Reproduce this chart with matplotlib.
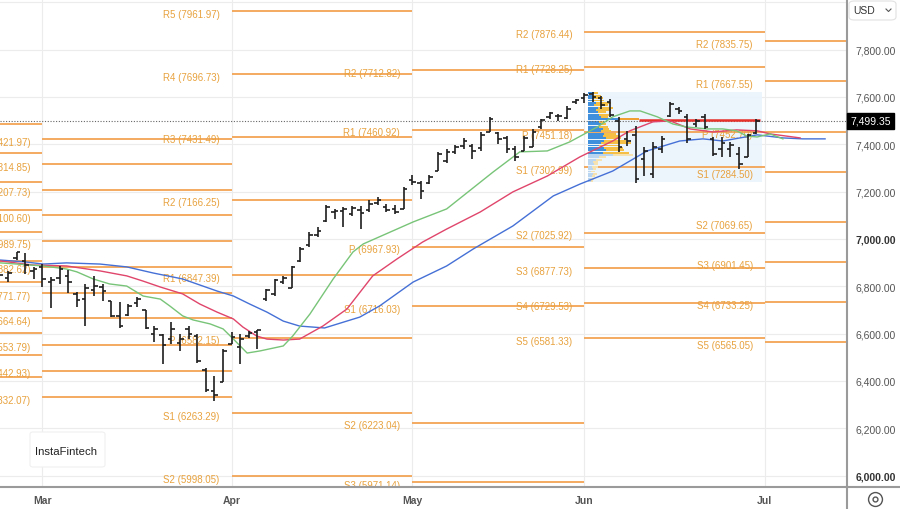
import matplotlib
matplotlib.use('Agg')
import matplotlib.pyplot as plt
import numpy as np
from matplotlib.patches import Rectangle, FancyBboxPatch
from matplotlib.lines import Line2D
from matplotlib.transforms import blended_transform_factory

plt.rcParams['font.family'] = ['Liberation Sans', 'DejaVu Sans']

# trading-day index, 0 = first session of March
day = np.arange(-5, 84)
high = [6856, 6865, 6945, 6941, 6882, 6894, 6839, 6886, 6869, 6776,
        6810, 6844, 6810, 6738, 6734, 6725, 6755, 6700, 6632, 6598,
        6649, 6598, 6632, 6598, 6455, 6421, 6535, 6607, 6598, 6611,
        6615, 6789, 6831, 6844, 6886, 6966, 7030, 7051, 7144, 7127,
        7135, 7140, 7140, 7165, 7178, 7148, 7144, 7220, 7271, 7245,
        7271, 7368, 7380, 7397, 7427, 7402, 7452, 7516, 7452, 7435,
        7393, 7435, 7465, 7507, 7537, 7528, 7562, 7592, 7617, 7621,
        7604, 7592, 7516, 7457, 7478, 7389, 7410, 7435, 7579, 7558,
        7528, 7507, 7528, 7431, 7431, 7410, 7389, 7444, 7507]
low = [6822, 6818, 6911, 6852, 6831, 6797, 6708, 6810, 6772, 6713,
       6632, 6759, 6738, 6670, 6624, 6675, 6713, 6620, 6565, 6472,
       6556, 6527, 6577, 6476, 6353, 6315, 6396, 6556, 6472, 6582,
       6535, 6738, 6759, 6810, 6793, 6903, 6966, 7008, 7072, 7085,
       7051, 7097, 7042, 7114, 7144, 7114, 7106, 7127, 7228, 7169,
       7232, 7287, 7321, 7359, 7380, 7338, 7372, 7452, 7402, 7364,
       7330, 7372, 7389, 7465, 7507, 7499, 7507, 7571, 7575, 7579,
       7550, 7516, 7368, 7393, 7237, 7266, 7258, 7364, 7516, 7528,
       7406, 7473, 7465, 7351, 7347, 7347, 7296, 7347, 7444]
opn = [6831, 6835, 6920, 6907, 6865, 6882, 6818, 6835, 6844, 6768,
       6746, 6784, 6797, 6738, 6675, 6679, 6729, 6700, 6598, 6594,
       6577, 6560, 6620, 6590, 6446, 6357, 6396, 6556, 6543, 6590,
       6607, 6746, 6768, 6818, 6793, 6907, 6975, 7017, 7076, 7114,
       7118, 7106, 7123, 7123, 7152, 7135, 7127, 7127, 7249, 7237,
       7237, 7287, 7330, 7368, 7393, 7393, 7385, 7452, 7448, 7427,
       7380, 7372, 7389, 7473, 7516, 7520, 7511, 7579, 7596, 7613,
       7596, 7579, 7499, 7423, 7440, 7338, 7275, 7380, 7520, 7550,
       7516, 7486, 7516, 7423, 7380, 7380, 7359, 7347, 7448]
close = [6848, 6856, 6945, 6890, 6873, 6831, 6827, 6873, 6818, 6742,
         6793, 6801, 6780, 6675, 6632, 6717, 6746, 6624, 6620, 6552,
         6620, 6577, 6598, 6484, 6362, 6341, 6527, 6586, 6577, 6603,
         6615, 6784, 6827, 6835, 6882, 6958, 7017, 7034, 7135, 7118,
         7127, 7131, 7110, 7148, 7165, 7123, 7114, 7211, 7241, 7203,
         7262, 7359, 7368, 7389, 7414, 7372, 7440, 7507, 7423, 7380,
         7347, 7427, 7452, 7503, 7533, 7520, 7550, 7588, 7609, 7600,
         7566, 7524, 7389, 7414, 7254, 7372, 7389, 7423, 7571, 7541,
         7423, 7499, 7473, 7359, 7406, 7397, 7317, 7440, 7499.35]
last_price = 7499.35

# alligator lines
jaw_x = [-4.9, -2.0, 0.1, 2.8, 6.7, 9.8, 12.9, 16.3, 20.3, 22.2, 24.1, 26.1, 28.0,
         29.9, 32.8, 36.9, 39.2, 43.1, 47.0, 50.1, 54.7, 59.4, 62.5, 66.3, 70.3,
         74.1, 76.8, 79.1, 83.1, 86.1, 88.4, 91.0]
jaw_y = [6911, 6903, 6894, 6899, 6894, 6882, 6856, 6831, 6780, 6759, 6725, 6691, 6653,
         6632, 6624, 6670, 6717, 6818, 6886, 6958, 7055, 7182, 7232, 7287, 7372,
         7414, 7423, 7414, 7440, 7427, 7423, 7423]
teeth_x = [-4.9, -1.1, 2.8, 6.7, 9.8, 11.7, 13.7, 16.3, 18.3, 20.3, 22.2, 23.3, 24.9,
           26.1, 28.0, 29.9, 32.6, 35.4, 38.4, 41.2, 44.2, 47.0, 50.9, 54.7, 58.7,
           62.5, 66.3, 68.3, 71.0, 73.0, 75.3, 78.0, 80.7, 83.1, 84.6, 88.1]
teeth_y = [6907, 6890, 6886, 6865, 6844, 6822, 6797, 6768, 6725, 6691, 6662, 6628, 6590,
           6577, 6573, 6577, 6632, 6704, 6844, 6915, 6987, 7042, 7114, 7199, 7266,
           7347, 7414, 7457, 7495, 7499, 7465, 7452, 7461, 7457, 7444, 7427]
lips_x = [-4.9, 0.1, 2.8, 4.0, 5.9, 7.8, 9.8, 11.7, 13.7, 14.8, 16.3, 17.5, 19.5, 21.0,
          22.2, 23.8, 25.3, 28.0, 29.1, 31.1, 33.8, 36.1, 37.3, 43.1, 47.0, 52.4,
          55.5, 58.7, 61.3, 64.5, 66.3, 68.3, 69.5, 71.5, 73.3, 74.9, 77.3, 79.1,
          80.7, 81.9, 83.1, 84.6, 86.1]
lips_y = [6899, 6886, 6873, 6861, 6831, 6810, 6801, 6759, 6746, 6717, 6675, 6658, 6641, 6620,
          6577, 6518, 6527, 6548, 6590, 6683, 6831, 6945, 6979, 7072, 7127, 7283,
          7368, 7372, 7410, 7473, 7516, 7541, 7541, 7516, 7486, 7473, 7465, 7465,
          7457, 7435, 7431, 7444, 7423]

# monthly pivot levels
feb_levels = [7485, 7362, 7242, 7123, 7030, 6908, 6817, 6697, 6601, 6510, 6418]
mar_names = ['R5', 'R4', 'R3', 'R2', 'R1', 'P', 'S1', 'S2', 'S3', 'S4', 'S5']
mar_levels = [7421.97, 7314.85, 7207.73, 7100.60, 6989.75, 6882.62, 6771.77,
              6664.64, 6553.79, 6442.93, 6332.07]
apr_names = ['R5', 'R4', 'R3', 'R2', 'R1', 'P', 'S1', 'S2']
apr_levels = [7961.97, 7696.73, 7431.49, 7166.25, 6847.39, 6582.15, 6263.29, 5998.05]
may_names = ['R2', 'R1', 'P', 'S1', 'S2', 'S3']
may_levels = [7712.82, 7460.92, 6967.93, 6716.03, 6223.04, 5971.14]
jun_names = ['R2', 'R1', 'P', 'S1', 'S2', 'S3', 'S4', 'S5']
jun_levels = [7876.44, 7728.25, 7451.18, 7302.99, 7025.92, 6877.73, 6729.53, 6581.33]
jul_names = ['R2', 'R1', 'P', 'S1', 'S2', 'S3', 'S4', 'S5']
jul_levels = [7835.75, 7667.55, 7452.70, 7284.50, 7069.65, 6901.45, 6733.25, 6565.05]

month_pos = [0, 22, 43, 63, 84]
month_lbl = ['Mar', 'Apr', 'May', 'Jun', 'Jul']

# volume profile for June (row price, buy, sell)
vp_price = [7615, 7605, 7595, 7585, 7575, 7565, 7555, 7545, 7535, 7525, 7515, 7505,
            7495, 7485, 7475, 7465, 7455, 7445, 7435, 7425, 7415, 7405, 7395, 7385,
            7375, 7365, 7355, 7345, 7335, 7325, 7315, 7305, 7295, 7285, 7275, 7265,
            7255, 7245]
vp_buy = [6.7, 5, 6.7, 5.7, 8.3, 6.7, 10, 8.3, 10, 11.7, 13.3, 31.7,
          11.7, 13.3, 11.7, 15, 13.3, 16.7, 15, 18.3, 16.7, 13.3, 11.7, 16.7,
          18.3, 15, 25, 11.7, 8, 5, 6, 4, 5, 3, 5, 4, 3, 3]
vp_sell = [3.3, 8.3, 8.3, 11, 15, 13.3, 15, 15, 8.3, 10, 6.7, 19.3,
           5, 5, 8.3, 6.7, 10, 11.7, 16.7, 15, 21.7, 30, 20, 18.3,
           18.3, 26.7, 20, 6.7, 6, 5, 4, 6, 3, 4, 4, 3, 3, 2]
vp_start = 63.4
vp_end = 83.7
vp_value_rows = 26
poc_row = 11

orange = '#f3a455'
orange_txt = '#e8a23e'

fig = plt.figure(figsize=(9, 5.1), dpi=100)
ax = fig.add_axes([0, 22 / 510, 847 / 900, 488 / 510])
ax.set_xlim(-4.94, 93.55)
ax.set_ylim(5952, 8014)

# grid
yt = [6000, 6200, 6400, 6600, 6800, 7000, 7200, 7400, 7600, 7800, 8000]
for v in yt:
    ax.axhline(v, color='#ececec', lw=0.8, zorder=0)
for m in month_pos:
    ax.axvline(m, color='#ececec', lw=0.8, zorder=0)

# pivots
for lv in feb_levels:
    ax.hlines(lv, -6, 0, color=orange, lw=1.3, zorder=1)
segments = [(0, 22, mar_names, mar_levels), (22, 43, apr_names, apr_levels),
            (43, 63, may_names, may_levels), (63, 84, jun_names, jun_levels),
            (84, 95, jul_names, jul_levels)]
for s, e, names, levels in segments:
    for nm, lv in zip(names, levels):
        ax.hlines(lv, s, e, color=orange, lw=1.3, zorder=1)
        ax.text(s - 1.4, lv - 11, f'{nm} ({lv:.2f})', ha='right', va='center',
                fontsize=7, color=orange_txt, zorder=1.5, clip_on=True)

# volume profile
ax.add_patch(Rectangle((vp_start, 7241), vp_end - vp_start, 380, fc='#eaf3fc',
                       ec='none', zorder=0.5, alpha=0.9))
sc = 1 / 8.6
for k, (p, b, sl) in enumerate(zip(vp_price, vp_buy, vp_sell)):
    faded = k >= vp_value_rows
    cb = '#b9d5f0' if faded else '#3f8fdc'
    cs = '#f6e2b0' if faded else '#f5bf45'
    if k == poc_row:
        cs = '#f0a030'
    ax.barh(p, b * sc, left=vp_start, height=8.2, color=cb, zorder=2)
    ax.barh(p, sl * sc, left=vp_start + b * sc, height=8.2, color=cs, zorder=2)
poc_end = vp_start + (vp_buy[poc_row] + vp_sell[poc_row]) * sc
ax.hlines(vp_price[poc_row] - 2, poc_end, 83.4, color='#e8302a', lw=1.8, zorder=3)

# last price dotted line
ax.axhline(last_price, color='#666', lw=0.8, ls=(0, (1, 1.5)), zorder=2.5)

# alligator
ax.plot(jaw_x, jaw_y, color='#4570d6', lw=1.0, zorder=3)
ax.plot(teeth_x, teeth_y, color='#e0456b', lw=1.0, zorder=3)
ax.plot(lips_x, lips_y, color='#78c478', lw=1.0, zorder=3)

# OHLC bars
ax.vlines(day, low, high, color='#1e1e1e', lw=1.2, zorder=4)
ax.hlines(opn, day - 0.4, day, color='#1e1e1e', lw=1.2, zorder=4)
ax.hlines(close, day, day + 0.4, color='#1e1e1e', lw=1.2, zorder=4)

# axes styling
for sp in ['left', 'top']:
    ax.spines[sp].set_visible(False)
ax.spines['right'].set_color('#9a9a9a')
ax.spines['right'].set_linewidth(1.5)
ax.spines['bottom'].set_color('#9a9a9a')
ax.spines['bottom'].set_linewidth(1.5)
ax.yaxis.tick_right()
ax.set_yticks(yt[:-1])
ax.set_yticklabels([f'{v:,.2f}' for v in yt[:-1]])
ax.tick_params(axis='y', length=0, pad=6, labelsize=7.5, labelcolor='#555')
for t, v in zip(ax.get_yticklabels(), yt[:-1]):
    if v in (6000, 7000):
        t.set_fontweight('bold')
        t.set_color('#333')
ax.set_xticks(month_pos)
ax.set_xticklabels(month_lbl, fontweight='bold')
ax.tick_params(axis='x', length=0, pad=6, labelsize=7.5, labelcolor='#555')

# last price tag
tr = blended_transform_factory(ax.transAxes, ax.transData)
ax.text(1.004, last_price, f'{last_price:,.2f}', transform=tr, ha='left', va='center',
        fontsize=7.5, color='white', clip_on=False, zorder=6,
        bbox=dict(boxstyle='square,pad=0.28', fc='black', ec='black'))

# extend right spine / bottom line across margins
fig.add_artist(Line2D([847 / 900, 847 / 900], [0, 22 / 510], color='#9a9a9a', lw=1.5))
fig.add_artist(Line2D([847 / 900, 1], [22 / 510, 22 / 510], color='#9a9a9a', lw=1.5))

# USD selector
fig.add_artist(FancyBboxPatch((849 / 900, 1 - 21 / 510), 47 / 900, 19 / 510,
                              boxstyle='round,pad=0,rounding_size=0.006',
                              fc='white', ec='#e2e2e2', lw=0.8, transform=fig.transFigure))
fig.text(853 / 900, 1 - 11 / 510, 'USD', fontsize=7.5, color='#333', va='center')
fig.add_artist(Line2D([886 / 900, 888.5 / 900, 891 / 900],
                      [1 - 10 / 510, 1 - 12.5 / 510, 1 - 10 / 510], color='#555', lw=0.8))

# settings icon
fig.add_artist(Line2D([875 / 900], [1 - 500 / 510], marker='o', ms=10, mfc='none',
                      mec='#555', mew=1.0))
fig.add_artist(Line2D([875 / 900], [1 - 500 / 510], marker='o', ms=3.5, mfc='none',
                      mec='#555', mew=1.0))

# watermark
fig.add_artist(FancyBboxPatch((30 / 900, 1 - 468 / 510), 75 / 900, 35 / 510,
                              boxstyle='round,pad=0,rounding_size=0.004',
                              fc='white', ec='#f0f0f0', lw=0.8, transform=fig.transFigure,
                              zorder=5))
fig.text(35 / 900, 1 - 452 / 510, 'InstaFintech', fontsize=8.2, color='#222',
         va='center', zorder=6)

fig.savefig('out.png', dpi=100)
